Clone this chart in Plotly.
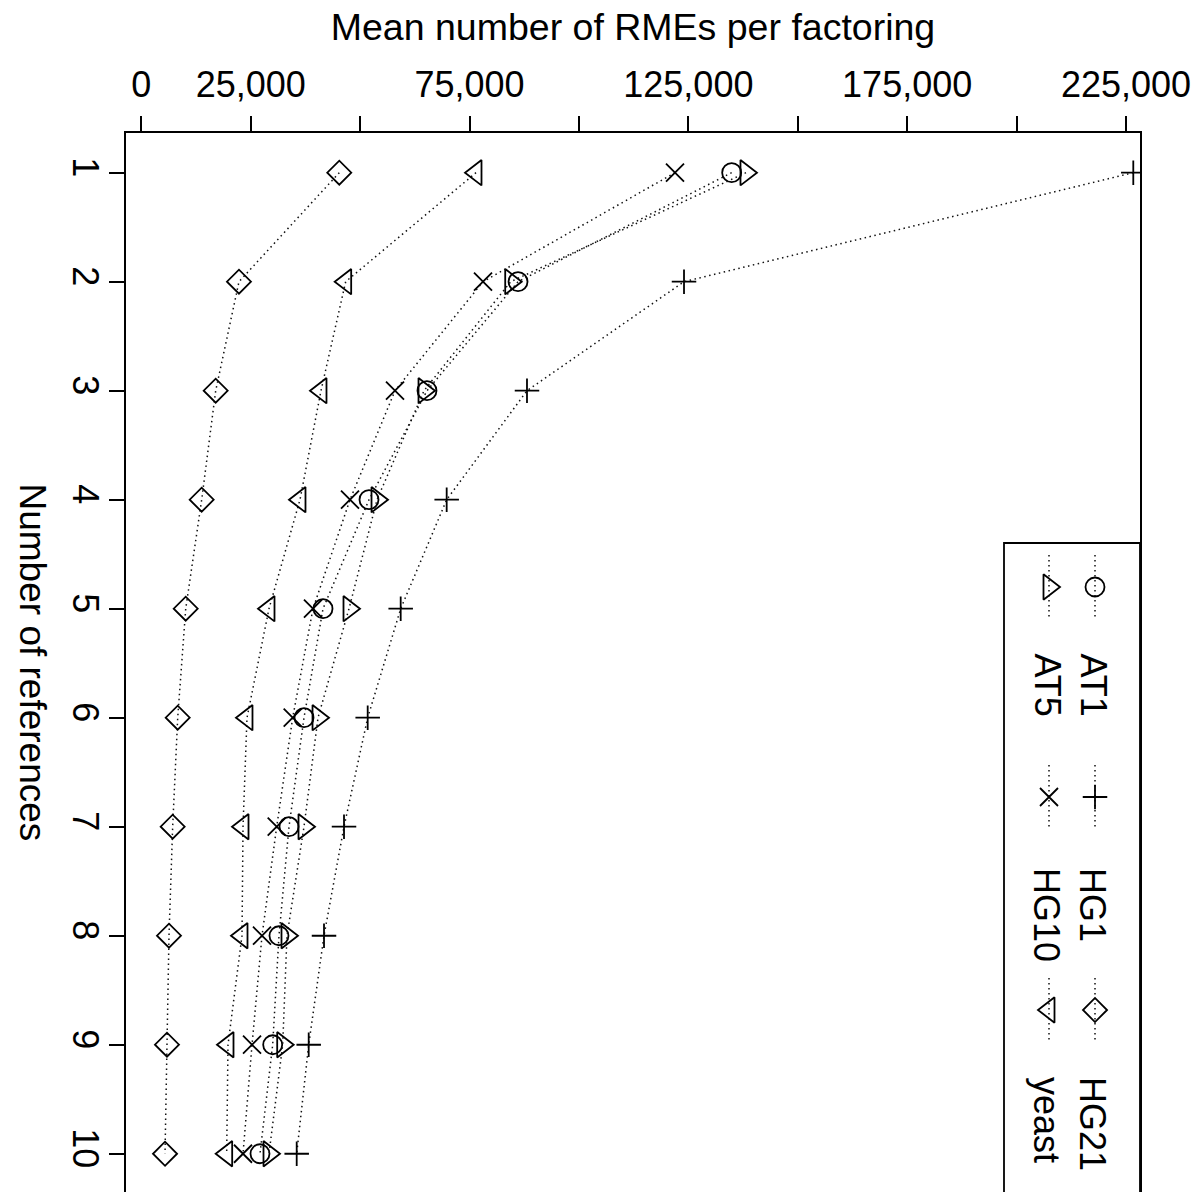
import plotly.graph_objects as go

# ---------------- data ----------------
refs = [1, 2, 3, 4, 5, 6, 7, 8, 9, 10]
ref_labels = ["1", "2", "3", "4", "5", "6", "7", "8", "9", "10"]

AT1 = [134900, 86080, 65280, 52030, 41520, 37180, 33750, 31460, 30020, 27120]
AT5 = [138170, 84410, 64600, 53860, 47460, 40380, 37180, 33290, 32310, 29180]
HG1 = [226670, 124010, 88130, 69780, 59270, 51730, 46320, 41750, 38250, 35510]
HG10 = [121950, 78080, 57970, 47690, 39230, 34590, 30940, 27580, 25300, 23240]
HG21 = [45240, 22320, 17000, 13800, 10150, 8320, 7170, 6330, 5870, 5420]
yeast = [76480, 46700, 41060, 36260, 29180, 24150, 23240, 23010, 19810, 19510]

series_names = ["AT1", "AT5", "HG1", "HG10", "HG21", "yeast"]
series_vals = [AT1, AT5, HG1, HG10, HG21, yeast]
series_symbols = ["circle-open", "triangle-right-open", "cross-thin-open",
                  "x-thin-open", "diamond-open", "triangle-left-open"]
series_sizes = [19, 22, 17.5, 18, 18.5, 22]

x_tickvals = [0, 25000, 50000, 75000, 100000, 125000, 150000, 175000, 200000, 225000]
x_ticktext = ["0", "25,000", "", "75,000", "", "125,000", "", "175,000", "", "225,000"]

x_title = "Mean number of RMEs per factoring"
y_title = "Number of references"

# ---------------- layout geometry ----------------
W, H = 1196, 1192
L, R, T, B = 126, 56, 133, 0
X_RANGE = [-3496, 228203]
Y_RANGE = [10.351, 0.636]
FONT = "Liberation Sans, Arial, Helvetica, sans-serif"
DOT = "1.5px,3.5px"


def px2x(px):
    return X_RANGE[0] + (px - L) / (W - L - R) * (X_RANGE[1] - X_RANGE[0])


def px2y(py):
    return Y_RANGE[1] + (py - T) / (H - T - B) * (Y_RANGE[0] - Y_RANGE[1])


fig = go.Figure()

for name, vals, sym, sz in zip(series_names, series_vals, series_symbols, series_sizes):
    fig.add_trace(go.Scatter(
        x=vals, y=refs, mode="lines+markers", name=name,
        line=dict(color="#111111", width=1.5, dash=DOT),
        marker=dict(symbol=sym, size=sz, color="black",
                    line=dict(color="black", width=1.8)),
        showlegend=False,
    ))

# ---------------- hand-drawn (rotated) legend ----------------
leg_cols = [1095, 1049, 1095, 1049, 1095, 1049]
leg_rows = [587, 587, 797, 797, 1010, 1010]
leg_text_start = [651, 651, 866, 866, 1075, 1075]

for name, sym, sz, cx, cy, ts in zip(series_names, series_symbols, series_sizes,
                                     leg_cols, leg_rows, leg_text_start):
    fig.add_trace(go.Scatter(
        x=[px2x(cx), px2x(cx)], y=[px2y(cy - 32), px2y(cy + 32)], mode="lines",
        line=dict(color="#111111", width=1.5, dash=DOT),
        showlegend=False, hoverinfo="skip", cliponaxis=False,
    ))
    fig.add_trace(go.Scatter(
        x=[px2x(cx)], y=[px2y(cy)], mode="markers",
        marker=dict(symbol=sym, size=sz, color="black",
                    line=dict(color="black", width=1.8)),
        showlegend=False, hoverinfo="skip", cliponaxis=False,
    ))
    fig.add_annotation(
        x=px2x(cx - 2), y=px2y(ts), xref="x", yref="y",
        text=name, textangle=90, showarrow=False,
        xanchor="center", yanchor="top",
        font=dict(family=FONT, size=36, color="black"),
    )

fig.add_shape(type="rect", xref="x", yref="y",
              x0=px2x(1004), x1=px2x(1140), y0=px2y(543), y1=px2y(1240),
              line=dict(color="black", width=1.8), fillcolor="rgba(0,0,0,0)")

# y axis title (rotated to read downward)
fig.add_annotation(
    x=(32 - L) / (W - L - R), y=0.5, xref="paper", yref="paper",
    text=y_title, textangle=90, showarrow=False,
    xanchor="center", yanchor="middle",
    font=dict(family=FONT, size=37, color="black"),
)

fig.update_layout(
    width=W, height=H,
    margin=dict(l=L, r=R, t=T, b=B, pad=0),
    paper_bgcolor="white", plot_bgcolor="white",
    font=dict(family=FONT, color="black"),
    xaxis=dict(
        side="top", range=X_RANGE, tickmode="array",
        tickvals=x_tickvals, ticktext=x_ticktext,
        ticks="outside", ticklen=15, tickwidth=1.8, tickcolor="black",
        showline=True, linewidth=1.8, linecolor="black",
        showgrid=False, zeroline=False,
        tickfont=dict(family=FONT, size=36, color="black"),
        title=dict(text=x_title, font=dict(family=FONT, size=37.5, color="black"),
                   standoff=12),
        ticklabelstandoff=5,
    ),
    yaxis=dict(
        range=Y_RANGE, tickmode="array", tickvals=refs, ticktext=ref_labels,
        tickangle=90,
        ticks="outside", ticklen=15, tickwidth=1.8, tickcolor="black",
        showline=True, mirror=True, linewidth=1.8, linecolor="black",
        showgrid=False, zeroline=False,
        tickfont=dict(family=FONT, size=36, color="black"),
        ticklabelstandoff=-7,
    ),
)

fig.write_html("out.html",
               config={"displayModeBar": False},
               post_script="document.body.style.margin='0px';"
                           "document.body.style.overflow='hidden';")
